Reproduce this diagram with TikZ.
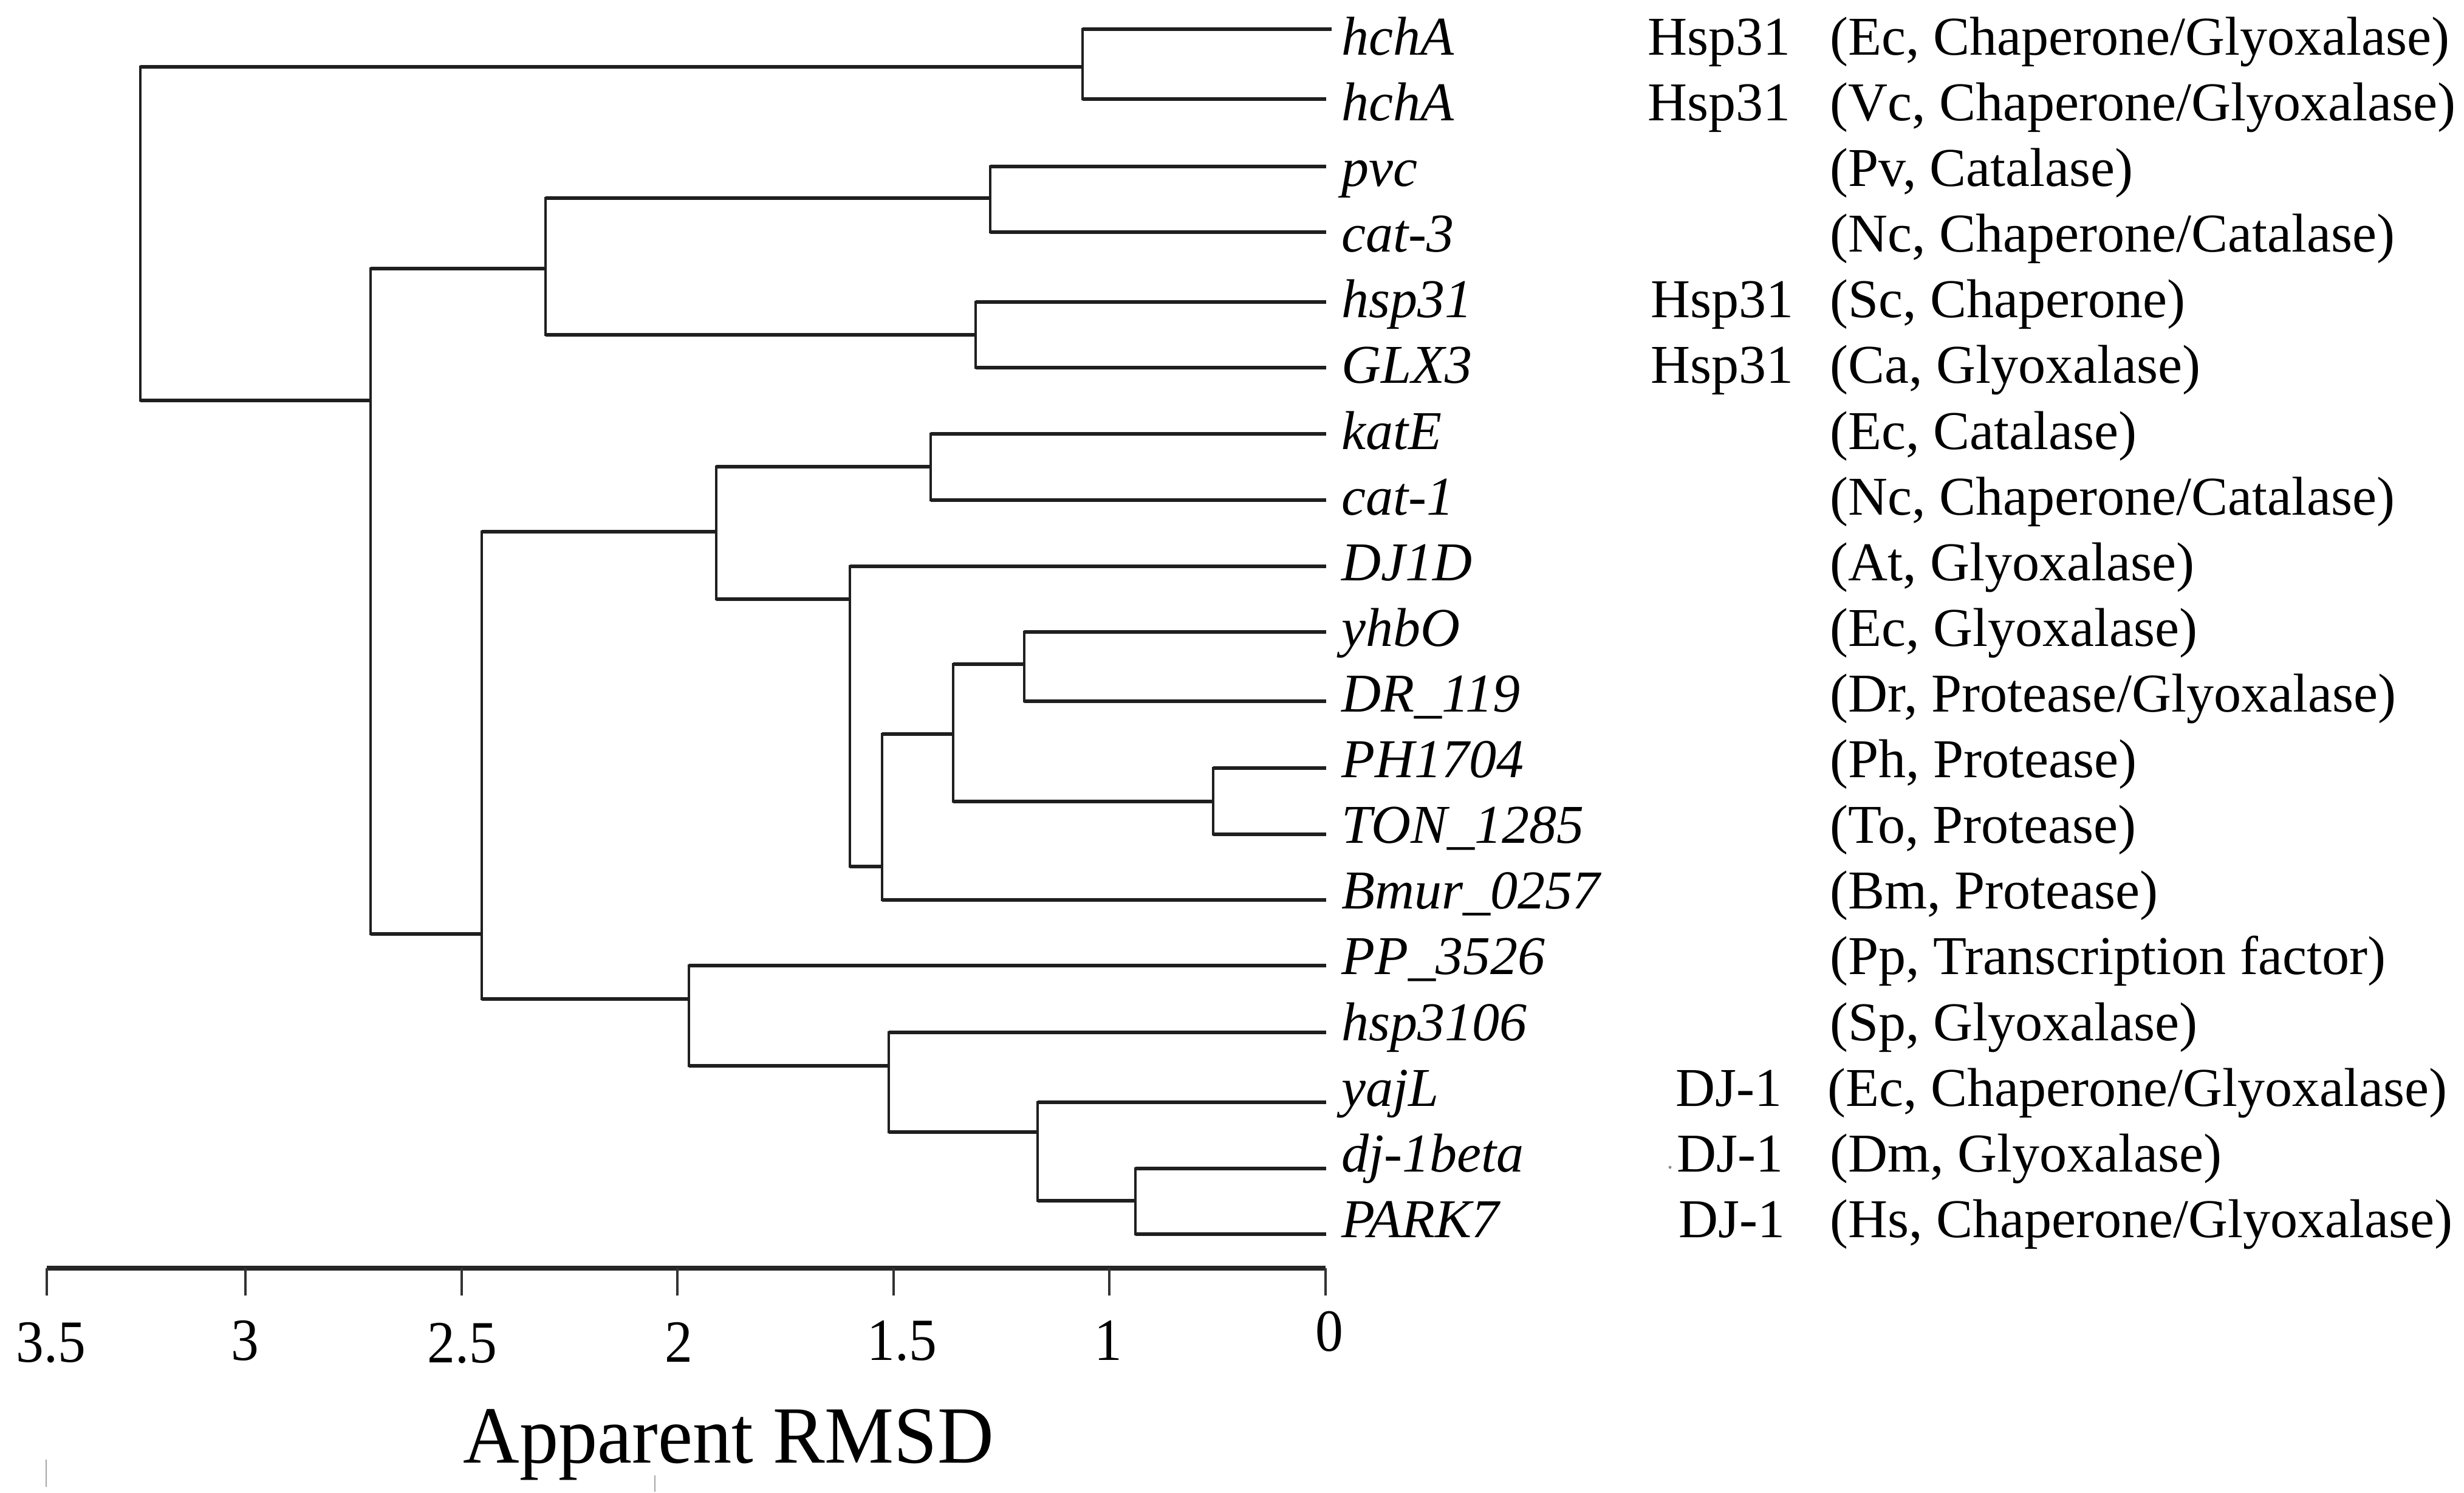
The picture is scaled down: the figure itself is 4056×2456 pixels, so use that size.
\documentclass[tikz,border=0pt]{standalone}
\usepackage{fontspec}
\setmainfont{Liberation Serif}
\newcommand\mkclade[3]{%
  \draw[vl] (#1 |- #2) -- (#1 |- #3);
  \draw[hl] (#1 |- #2) -- (#2);
  \draw[hl] (#1 |- #3) -- (#3);}
\begin{document}
\begin{tikzpicture}[x=0.01cm,y=-0.01cm,
  hl/.style={line width=1.6pt,line cap=butt,draw=black!88},
  vl/.style={line width=1.1pt,line cap=rect,draw=black!88},
  axisline/.style={line width=2.2pt,draw=black!85},
  tickline/.style={line width=1pt,draw=black!80},
  gene/.style={anchor=base west,inner sep=0pt,font=\fontsize{25.6pt}{30pt}\selectfont\itshape},
  fam/.style={anchor=base west,inner sep=0pt,font=\fontsize{25.6pt}{30pt}\selectfont},
  desc/.style={anchor=base west,inner sep=0pt,font=\fontsize{25.6pt}{30pt}\selectfont},
  ticklab/.style={anchor=base,inner sep=0pt,font=\fontsize{28pt}{32pt}\selectfont},
  titlelab/.style={anchor=base west,inner sep=0pt,font=\fontsize{38pt}{44pt}\selectfont},
  stray/.style={line width=0.6pt,draw=black!35}]
\fill[white] (0,0) rectangle (4056,2456);
\useasboundingbox (0,0) rectangle (4056,2456);

% leaf ends
\coordinate (l1) at (2192,48);
\coordinate (l2) at (2183,163);
\coordinate (l3) at (2183,274);
\coordinate (l4) at (2183,382);
\coordinate (l5) at (2183,497);
\coordinate (l6) at (2183,605);
\coordinate (l7) at (2183,714);
\coordinate (l8) at (2183,823);
\coordinate (l9) at (2183,932);
\coordinate (l10) at (2183,1040);
\coordinate (l11) at (2183,1154);
\coordinate (l12) at (2183,1264);
\coordinate (l13) at (2183,1373);
\coordinate (l14) at (2183,1481);
\coordinate (l15) at (2183,1589);
\coordinate (l16) at (2183,1699);
\coordinate (l17) at (2183,1814);
\coordinate (l18) at (2183,1923);
\coordinate (l19) at (2183,2031);

% internal nodes (x, y of link to parent)
\coordinate (nR) at (231,110);
\coordinate (nA) at (1782,110);
\coordinate (nB) at (610,659);
\coordinate (nC) at (898,442);
\coordinate (nE) at (1630,326);
\coordinate (nF) at (1606,551);
\coordinate (nD) at (793,1537);
\coordinate (nG) at (1179,875);
\coordinate (nI) at (1532,768);
\coordinate (nJ) at (1399,986);
\coordinate (nK) at (1452,1426);
\coordinate (nL) at (1569,1208);
\coordinate (nM) at (1686,1093);
\coordinate (nN) at (1997,1319);
\coordinate (nH) at (1134,1644);
\coordinate (nO) at (1463,1754);
\coordinate (nP) at (1708,1863);
\coordinate (nQ) at (1869,1976);

\mkclade{nR}{nA}{nB}
\mkclade{nA}{l1}{l2}
\mkclade{nB}{nC}{nD}
\mkclade{nC}{nE}{nF}
\mkclade{nE}{l3}{l4}
\mkclade{nF}{l5}{l6}
\mkclade{nD}{nG}{nH}
\mkclade{nG}{nI}{nJ}
\mkclade{nI}{l7}{l8}
\mkclade{nJ}{l9}{nK}
\mkclade{nK}{nL}{l14}
\mkclade{nL}{nM}{nN}
\mkclade{nM}{l10}{l11}
\mkclade{nN}{l12}{l13}
\mkclade{nH}{l15}{nO}
\mkclade{nO}{l16}{nP}
\mkclade{nP}{l17}{nQ}
\mkclade{nQ}{l18}{l19}

% gene names
\node[gene] (g1) at (2208,90) {hchA};
\node[gene] (g2) at (2208,198) {hchA};
\node[gene] (g3) at (2208,306) {pvc};
\node[gene] (g4) at (2208,414) {cat-3};
\node[gene] (g5) at (2208,522) {hsp31};
\node[gene] (g6) at (2208,630) {GLX3};
\node[gene] (g7) at (2208,739) {katE};
\node[gene] (g8) at (2208,847) {cat-1};
\node[gene] (g9) at (2208,955) {DJ1D};
\node[gene] (g10) at (2208,1063) {yhbO};
\node[gene] (g11) at (2208,1171) {DR\_119};
\node[gene] (g12) at (2208,1279) {PH1704};
\node[gene] (g13) at (2208,1387) {TON\_1285};
\node[gene] (g14) at (2208,1495) {Bmur\_0257};
\node[gene] (g15) at (2208,1603) {PP\_3526};
\node[gene] (g16) at (2208,1712) {hsp3106};
\node[gene] (g17) at (2208,1820) {yajL};
\node[gene] (g18) at (2208,1928) {dj-1beta};
\node[gene] (g19) at (2208,2036) {PARK7};

% families
\node[fam] (f1) at (2712,90) {Hsp31};
\node[fam] (f2) at (2712,198) {Hsp31};
\node[fam] (f5) at (2717,522) {Hsp31};
\node[fam] (f6) at (2717,630) {Hsp31};
\node[fam] (f17) at (2758,1820) {DJ-1};
\node[fam] (f18) at (2760,1928) {DJ-1};
\node[fam] (f19) at (2763,2036) {DJ-1};
\fill[black!45] (2749,1921) circle (0.7pt);

% descriptions
\node[desc] (d1) at (3012,90) {(Ec, Chaperone/Glyoxalase)};
\node[desc] (d2) at (3012,198) {(Vc, Chaperone/Glyoxalase)};
\node[desc] (d3) at (3012,306) {(Pv, Catalase)};
\node[desc] (d4) at (3012,414) {(Nc, Chaperone/Catalase)};
\node[desc] (d5) at (3012,522) {(Sc, Chaperone)};
\node[desc] (d6) at (3012,630) {(Ca, Glyoxalase)};
\node[desc] (d7) at (3012,739) {(Ec, Catalase)};
\node[desc] (d8) at (3012,847) {(Nc, Chaperone/Catalase)};
\node[desc] (d9) at (3012,955) {(At, Glyoxalase)};
\node[desc] (d10) at (3012,1063) {(Ec, Glyoxalase)};
\node[desc] (d11) at (3012,1171) {(Dr, Protease/Glyoxalase)};
\node[desc] (d12) at (3012,1279) {(Ph, Protease)};
\node[desc] (d13) at (3012,1387) {(To, Protease)};
\node[desc] (d14) at (3012,1495) {(Bm, Protease)};
\node[desc] (d15) at (3012,1603) {(Pp, Transcription factor)};
\node[desc] (d16) at (3012,1712) {(Sp, Glyoxalase)};
\node[desc] (d17) at (3008,1820) {(Ec, Chaperone/Glyoxalase)};
\node[desc] (d18) at (3012,1928) {(Dm, Glyoxalase)};
\node[desc] (d19) at (3012,2036) {(Hs, Chaperone/Glyoxalase)};

% axis
\coordinate (t1) at (77,2087);
\coordinate (t2) at (404,2087);
\coordinate (t3) at (760,2087);
\coordinate (t4) at (1115,2087);
\coordinate (t5) at (1471,2087);
\coordinate (t6) at (1826,2087);
\coordinate (t7) at (2182,2087);
\draw[axisline] (t1) -- (t7);
\foreach \t in {t1,t2,t3,t4,t5,t6,t7}
  \draw[tickline] (\t) -- ++(0,45);
\node[ticklab] (k1) at (84,2241) {\scalebox{0.93}[1]{3.5}};
\node[ticklab] (k2) at (403,2238) {\scalebox{0.93}[1]{3}};
\node[ticklab] (k3) at (761,2242) {\scalebox{0.93}[1]{2.5}};
\node[ticklab] (k4) at (1117,2241) {\scalebox{0.93}[1]{2}};
\node[ticklab] (k5) at (1485,2238) {\scalebox{0.93}[1]{1.5}};
\node[ticklab] (k6) at (1824,2238) {\scalebox{0.93}[1]{1}};
\node[ticklab] (k7) at (2188,2223) {\scalebox{0.93}[1]{0}};
\node[titlelab] (ttl) at (762,2407) {\scalebox{0.96}[1]{Apparent RMSD}};

% stray marks
\draw[stray] (76,2402) -- (76,2447);
\draw[stray] (1078,2428) -- (1078,2455);
\end{tikzpicture}
\end{document}
